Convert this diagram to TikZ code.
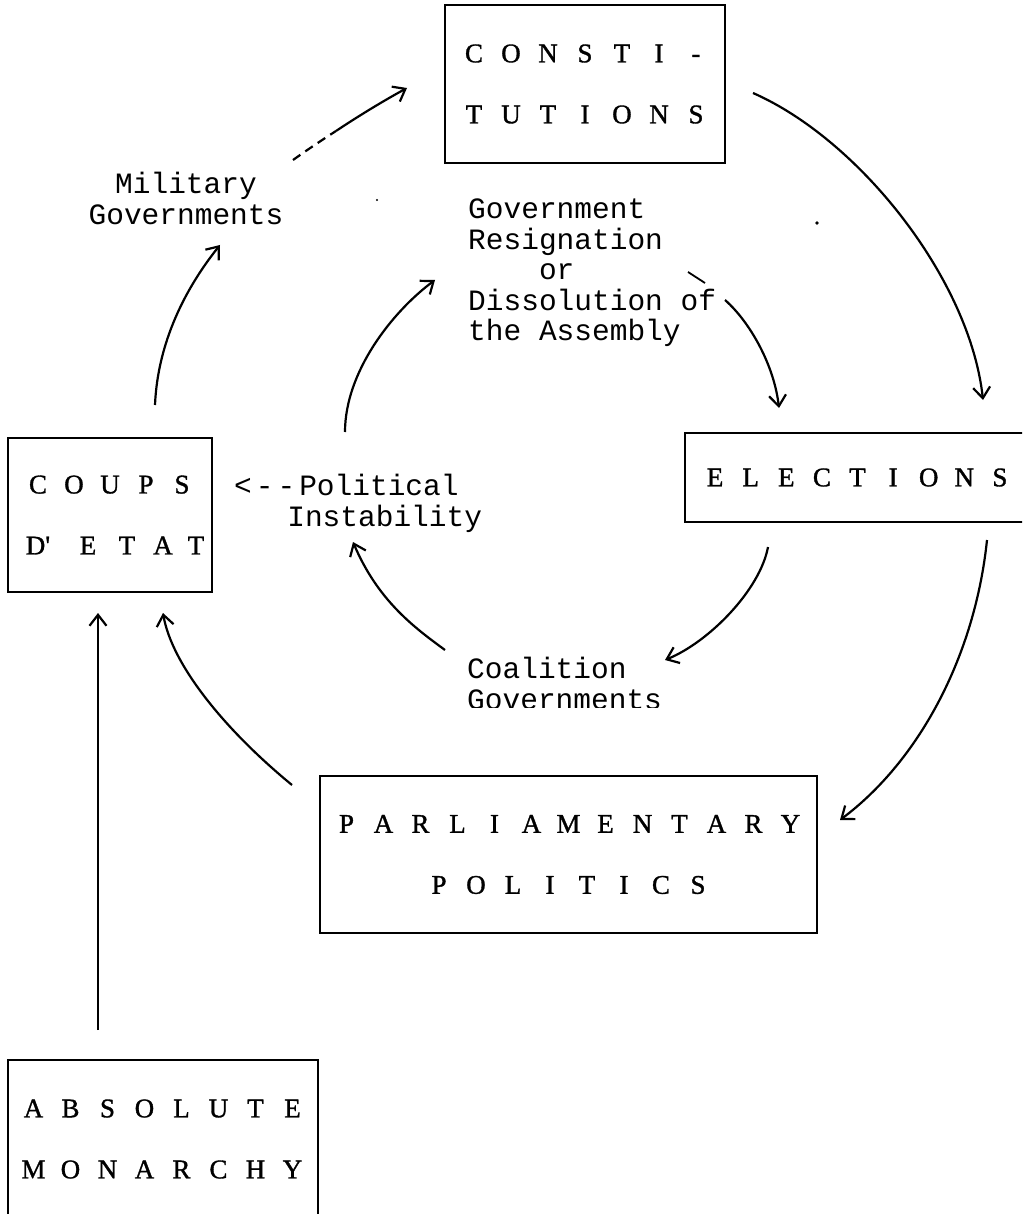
\documentclass[tikz,border=0pt]{standalone}
\usepackage{fontspec}
\usetikzlibrary{arrows.meta}
\newfontfamily\labfont{Liberation Mono}
\newfontfamily\boxfont[FakeBold=1.2]{Liberation Serif}
\newcommand\ltrs[2]{\foreach \ch in {#2}{\makebox[#1]{\ch}}}
\tikzset{
  bx/.style={draw, line width=2.5pt, inner sep=0pt, align=center,
    font={\boxfont\fontsize{27}{61}\selectfont}},
  lab/.style={inner sep=0pt, font={\labfont\fontsize{29.5}{30.5}\selectfont}},
  arr/.style={line width=2.2pt, -{Straight Barb[length=11pt,width=17pt]}},
  ln/.style={line width=2.2pt}
}
\begin{document}
\begin{tikzpicture}[x=1pt,y=-1pt]
\useasboundingbox (0,0) rectangle (1022,1214);
\clip (0,0) rectangle (1022,1214);
\fill[white] (0,0) rectangle (1022,1214);

% boxes
\node[bx, minimum width=280pt, minimum height=158pt] (const) at (585,84)
  {\ltrs{37pt}{C,O,N,S,T,I,-}\\\ltrs{37pt}{T,U,T,I,O,N,S}};
\node[bx, minimum width=345pt, minimum height=89pt] (elec) at (857.5,477.5)
  {\ltrs{35.6pt}{E,L,E,C,T,I,O,N,S}};
\node[bx, minimum width=204pt, minimum height=154pt] (coups) at (110,515)
  {\ltrs{36pt}{C,O,U,P,S}\\\makebox[50pt]{D\textquotesingle}\makebox[50pt]{E}\makebox[28pt]{T}\makebox[44pt]{A}\makebox[22pt]{T}};
\node[bx, minimum width=497pt, minimum height=157pt] (parl) at (568.5,854.5)
  {\ltrs{37pt}{P,A,R,L,I,A,M,E,N,T,A,R,Y}\\\ltrs{37pt}{P,O,L,I,T,I,C,S}};
\node[bx, minimum width=310pt, minimum height=158pt] (abs) at (163,1139)
  {\ltrs{37pt}{A,B,S,O,L,U,T,E}\\\ltrs{37pt}{M,O,N,A,R,C,H,Y}};

% labels
\node[lab, align=center, anchor=north] (mil) at (186,172) {Military\\Governments};
\node[lab, align=left, anchor=north west] (gov) at (468,199)
  {Government\\Resignation\\\phantom{xxxx}or\\Dissolution of\\the Assembly};
\node[lab, align=left, anchor=north west] (pol) at (234,474)
  {<\kern4pt-\kern4pt-\kern4pt Political\\\phantom{<--}Instability};
\begin{scope}
\clip (400,600) rectangle (720,707);
\node[lab, align=left, anchor=north west] (coal) at (467,657)
  {Coalition\\Governments};
\end{scope}

% connector end points
\coordinate (a1s) at (98,1030);   \coordinate (a1e) at (98,613);
\coordinate (a2s) at (292,785);   \coordinate (a2e) at (163,613);
\coordinate (a3s) at (155,405);   \coordinate (a3e) at (220,245);
\coordinate (a4s) at (293,160);   \coordinate (a4m) at (336,131);  \coordinate (a4e) at (407,88);
\coordinate (a5s) at (753,93);    \coordinate (a5e) at (983,400);
\coordinate (a6s) at (725,300);   \coordinate (a6e) at (779,408);
\coordinate (a7s) at (345,432);   \coordinate (a7e) at (435,280);
\coordinate (a8s) at (768,547);   \coordinate (a8e) at (665,660);
\coordinate (a9s) at (445,650);   \coordinate (a9e) at (353,542);
\coordinate (a10s) at (987,540);  \coordinate (a10e) at (840,820);

\draw[arr] (a1s) -- (a1e);
\draw[arr] (a2s) .. controls (225,730) and (172,665) .. (a2e);
\draw[arr] (a3s) .. controls (158,335) and (192,280) .. (a3e);
\draw[ln, dash pattern=on 9pt off 6pt] (a4s) .. controls (307,150) and (322,140) .. (a4m);
\draw[arr] (a4m) .. controls (360,115) and (385,100) .. (a4e);
\draw[arr] (a5s) .. controls (860,140) and (970,280) .. (a5e);
\draw[arr] (a6s) .. controls (750,322) and (774,365) .. (a6e);
\draw[arr] (a7s) .. controls (345,372) and (392,312) .. (a7e);
\draw[arr] (a8s) .. controls (760,590) and (709,642) .. (a8e);
\draw[arr] (a9s) .. controls (415,628) and (378,601) .. (a9e);
\draw[arr] (a10s) .. controls (975,655) and (920,760) .. (a10e);

% small marks
\draw[line width=1.8pt] (688,272) -- (705,283);
\fill (817,223) circle (1.8pt);
\fill (377,200) circle (1.2pt);
\end{tikzpicture}
\end{document}
